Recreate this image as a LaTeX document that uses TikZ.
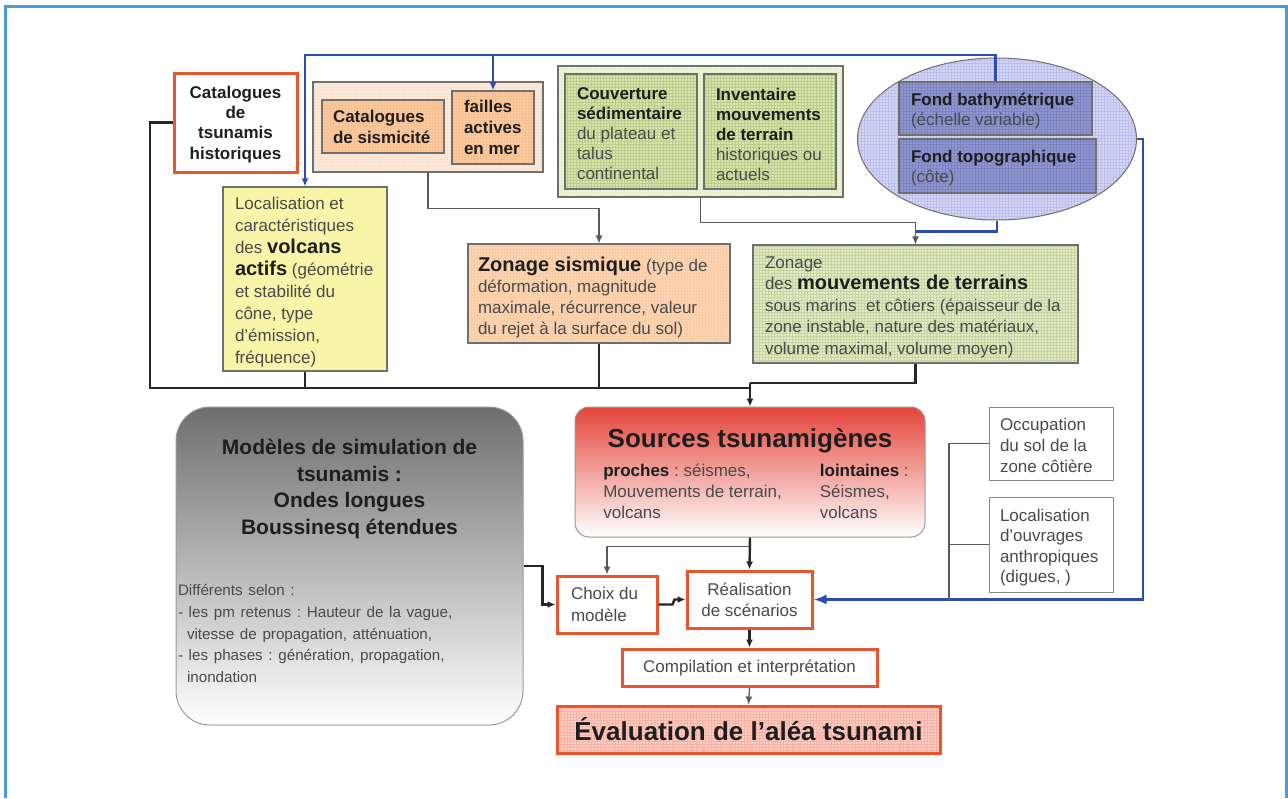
\documentclass[tikz,border=0pt]{standalone}
\usepackage{fontspec}
\setmainfont{Liberation Sans}
\usetikzlibrary{positioning,arrows.meta,patterns,shapes.geometric}
\frenchspacing

\definecolor{framebl}{HTML}{4B9CD8}
\definecolor{redor}{HTML}{E9552D}
\definecolor{peachlt}{HTML}{FCE9DA}
\definecolor{peach}{HTML}{F8CBA6}
\definecolor{sisfill}{HTML}{FBD5B8}
\definecolor{greenlt}{HTML}{EEF4DA}
\definecolor{greenin}{HTML}{D6E7A6}
\definecolor{mvtfill}{HTML}{E3EEBF}
\definecolor{yellowv}{HTML}{F8F4A8}
\definecolor{lav}{HTML}{D5D8EF}
\definecolor{purp}{HTML}{9097D6}
\definecolor{dkblue}{HTML}{2C4CB0}
\definecolor{srcred}{HTML}{E4453A}
\definecolor{modgray}{HTML}{6E6E6E}
\definecolor{evalfill}{HTML}{FBD0C4}
\definecolor{boxgray}{HTML}{6F6F6F}
\definecolor{txt}{HTML}{4A4A4A}
\definecolor{txtdk}{HTML}{1E1E1E}

% texte de boite : largeur, decalage haut, retrait gauche, contenu
\newcommand{\boxtext}[4]{\parbox{#1}{\vspace*{#2}\raggedright\leftskip=#3\relax #4}}

\tikzset{
  base/.style={inner sep=0pt, text=txt, font=\fontsize{17}{20}\selectfont},
  redbox/.style={base, draw=redor, line width=3, fill=white},
  grpbox/.style={base, draw=boxgray, line width=1.2},
  inbox/.style={base, draw=boxgray, line width=1.2},
  greybox/.style={base, draw=boxgray!80, line width=1, fill=white},
  gfill/.style 2 args={preaction={fill=#1}, preaction={pattern=grid, pattern color=#2}},
  blk/.style={draw=black!85, line width=2.4},
  thn/.style={draw=black!65, line width=1.3},
  bl/.style={draw=dkblue, line width=2.6},
  tip/.style={-{Latex[length=8pt,width=7pt]}}
}

\begin{document}
\begin{tikzpicture}[x=1pt, y=-1pt]
  \useasboundingbox (0,0) rectangle (1288,798);
  \draw[framebl, line width=3] (5,798) -- (5,6) -- (1286,6) -- (1286,798);

  % sources de donnees
  \node[redbox, minimum width=123, minimum height=99,
        font=\bfseries\fontsize{17}{20.2}\selectfont, text=txtdk] (cattsu) at (235.5,122.5)
        {\parbox{117pt}{\vspace*{4pt}\centering Catalogues\\de\\tsunamis\\historiques}};

  \node[grpbox, gfill={peachlt}{peach!55}, minimum width=230, minimum height=90] (sisgrp) at (428,127) {};
  \node[inbox, gfill={peach}{peach!85!orange}, minimum width=122, minimum height=53,
        font=\bfseries\fontsize{17}{21}\selectfont, text=txtdk] (catsis) at (383,126.5)
        {\boxtext{106pt}{0pt}{3pt}{Catalogues\\de sismicité}};
  \node[inbox, gfill={peach}{peach!85!orange}, minimum width=82, minimum height=73,
        font=\bfseries\fontsize{17}{21}\selectfont, text=txtdk] (failles) at (493,127.5)
        {\boxtext{66pt}{0pt}{4pt}{failles\\actives\\en mer}};

  \node[grpbox, gfill={greenlt}{greenin!65}, minimum width=285, minimum height=131] (vertgrp) at (700.5,131.5) {};
  \node[inbox, gfill={greenin}{greenin!88!black}, minimum width=132, minimum height=115] (couvert) at (631,131.5)
        {\boxtext{118pt}{5pt}{5pt}{\textbf{\textcolor{txtdk}{Couverture\\sédimentaire}}\\du plateau et\\talus\\continental}};
  \node[inbox, gfill={greenin}{greenin!88!black}, minimum width=132, minimum height=115] (invent) at (770,131.5)
        {\boxtext{118pt}{5pt}{5pt}{\textbf{\textcolor{txtdk}{Inventaire\\mouvements\\de terrain}}\\historiques ou\\actuels}};

  \node[ellipse, draw=boxgray, line width=1, gfill={lav}{lav!88!blue}, minimum width=279, minimum height=162] (fonds) at (997,139) {};
  \node[inbox, gfill={purp}{purp!88!black}, minimum width=193, minimum height=53] (bathy) at (995.5,108.5)
        {\boxtext{177pt}{6pt}{4pt}{\textbf{\textcolor{txtdk}{Fond bathymétrique}}\\(échelle variable)}};
  \node[inbox, gfill={purp}{purp!88!black}, minimum width=197, minimum height=54] (topo) at (997.5,166)
        {\boxtext{181pt}{4pt}{4pt}{\textbf{\textcolor{txtdk}{Fond topographique}}\\(côte)}};

  % zonages
  \node[inbox, fill=yellowv, minimum width=164, minimum height=184,
        font=\fontsize{17}{22}\selectfont] (volcans) at (305,279)
        {\boxtext{148pt}{7pt}{4pt}{Localisation et\\caractéristiques\\des \textbf{\textcolor{txtdk}{\fontsize{20}{22}\selectfont volcans\\actifs}} (géométrie\\et stabilité du\\cône, type\\d'émission,\\fréquence)}};
  \node[inbox, gfill={sisfill}{sisfill!88!orange}, minimum width=262, minimum height=99,
        font=\fontsize{17}{20.7}\selectfont] (zonsis) at (599,293.5)
        {\boxtext{248pt}{8pt}{3pt}{\textbf{\textcolor{txtdk}{\fontsize{20}{20.7}\selectfont Zonage sismique}} (type de\\déformation, magnitude\\maximale, récurrence, valeur\\du rejet à la surface du sol)}};
  \node[inbox, gfill={mvtfill}{mvtfill!88!black}, minimum width=325, minimum height=118,
        font=\fontsize{17}{21.5}\selectfont] (zonmvt) at (915.5,304)
        {\boxtext{313pt}{6pt}{6pt}{Zonage\\des \textbf{\textcolor{txtdk}{\fontsize{20}{21.5}\selectfont mouvements de terrains}}\\sous marins~ et côtiers (épaisseur de la\\zone instable, nature des matériaux,\\volume maximal, volume moyen)}};

  % modelisation
  \node[base, draw=boxgray!70, line width=1, rounded corners=14, top color=srcred, bottom color=white,
        minimum width=350, minimum height=130] (sources) at (750,472)
        {\parbox{340pt}{\vspace*{10pt}\centering
           {\bfseries\color{txtdk}\fontsize{26}{28}\selectfont Sources tsunamigènes\par}\vspace{8pt}
           \fontsize{17}{21}\selectfont
           \hspace*{12pt}\begin{tabular}[t]{@{}l@{\hspace{38pt}}l@{}}
             \textbf{\textcolor{txtdk}{proches}} : séismes, & \textbf{\textcolor{txtdk}{lointaines}} :\\
             Mouvements de terrain, & Séismes,\\
             volcans & volcans
           \end{tabular}\par}};

  \node[base, draw=boxgray!70, line width=1, rounded corners=34, top color=modgray, bottom color=white,
        minimum width=347, minimum height=318, text width=343, inner xsep=2pt, align=center] (modeles) at (349.5,566)
        {{\bfseries\color{txtdk}\fontsize{21}{26.5}\selectfont Modèles de simulation de\\tsunamis :\\Ondes longues\\Boussinesq étendues\par}
         \vspace{40pt}
         {\raggedright\fontsize{15.2}{21.7}\selectfont Différents selon :\\- les pm retenus : Hauteur de la vague,\\\hspace*{9pt}vitesse de propagation, atténuation,\\- les phases : génération, propagation,\\\hspace*{9pt}inondation\par}
         \vspace{10pt}};

  \node[greybox, minimum width=124, minimum height=73, font=\fontsize{17}{21}\selectfont] (occup) at (1051,443.5)
        {\boxtext{106pt}{4pt}{2pt}{Occupation\\du sol de la\\zone côtière}};
  \node[greybox, minimum width=124, minimum height=95, font=\fontsize{17}{20.5}\selectfont] (ouvrag) at (1051,544.5)
        {\boxtext{106pt}{6pt}{2pt}{Localisation\\d'ouvrages\\anthropiques\\(digues, )}};

  \node[redbox, minimum width=100, minimum height=57, font=\fontsize{17}{22}\selectfont] (choix) at (607,604.5)
        {\boxtext{84pt}{0pt}{6pt}{Choix du\\modèle}};
  \node[redbox, minimum width=125, minimum height=57, font=\fontsize{17}{21}\selectfont] (realis) at (749.5,599.5)
        {\parbox{115pt}{\centering Réalisation\\de scénarios}};
  \node[redbox, minimum width=255, minimum height=37] (compil) at (749.5,667.5)
        {Compilation et interprétation};
  \node[redbox, fill=none, gfill={evalfill}{evalfill!85!red}, minimum width=383, minimum height=47, text=txtdk,
        font=\bfseries\fontsize{26}{28}\selectfont] (evalu) at (748.5,729.5)
        {Évaluation de l'aléa tsunami};

  % liaisons
  \coordinate (busl) at (150,388);
  \coordinate (bus) at (750,388);
  \coordinate (jmvt) at (750,383);
  \coordinate (btop) at (305,55);
  \coordinate (jocc) at (949,600);

  \draw[blk] (cattsu.west) -| (busl) -- (bus);
  \draw[blk] (volcans.south) -- (volcans.south |- bus);
  \draw[blk] (zonsis.south) -- (zonsis.south |- bus);
  \draw[blk] (zonmvt.south) |- (jmvt);
  \draw[blk, tip] (jmvt) -- (sources.north);

  \draw[thn, tip] (sisgrp.south) -- ++(0,36) -| (zonsis.north);
  \draw[thn, tip] (vertgrp.south) -- ++(0,25) -| (zonmvt.north);
  \draw[bl] (fonds.south) |- ([yshift=13pt]zonmvt.north);

  \draw[bl, tip] (bathy.north) |- (btop) -- (volcans.north);
  \draw[bl, tip] (failles.north |- btop) -- (failles.north);
  \draw[bl, -{Latex[length=13pt,width=10pt]}] (fonds.east) -- ++(6,0) |- (realis.east);

  \draw[thn] (occup.west) -| (jocc);
  \draw[thn] (ouvrag.west) -- (ouvrag.west -| jocc);

  \draw[blk, tip] (sources.south) -- (realis.north);
  \draw[thn, tip] ([yshift=-9pt]sources.south) -| (choix.north);
  \draw[blk, tip] (modeles.east) -- ++(19,0) |- (choix.west);
  \draw[blk, tip] (choix.east) -- ++(14,0) -- ++(2,-5) -- (realis.west);
  \draw[blk, tip] (realis.south) -- (compil.north);
  \draw[thn, tip] (compil.south) -- (evalu.north);
\end{tikzpicture}
\end{document}
